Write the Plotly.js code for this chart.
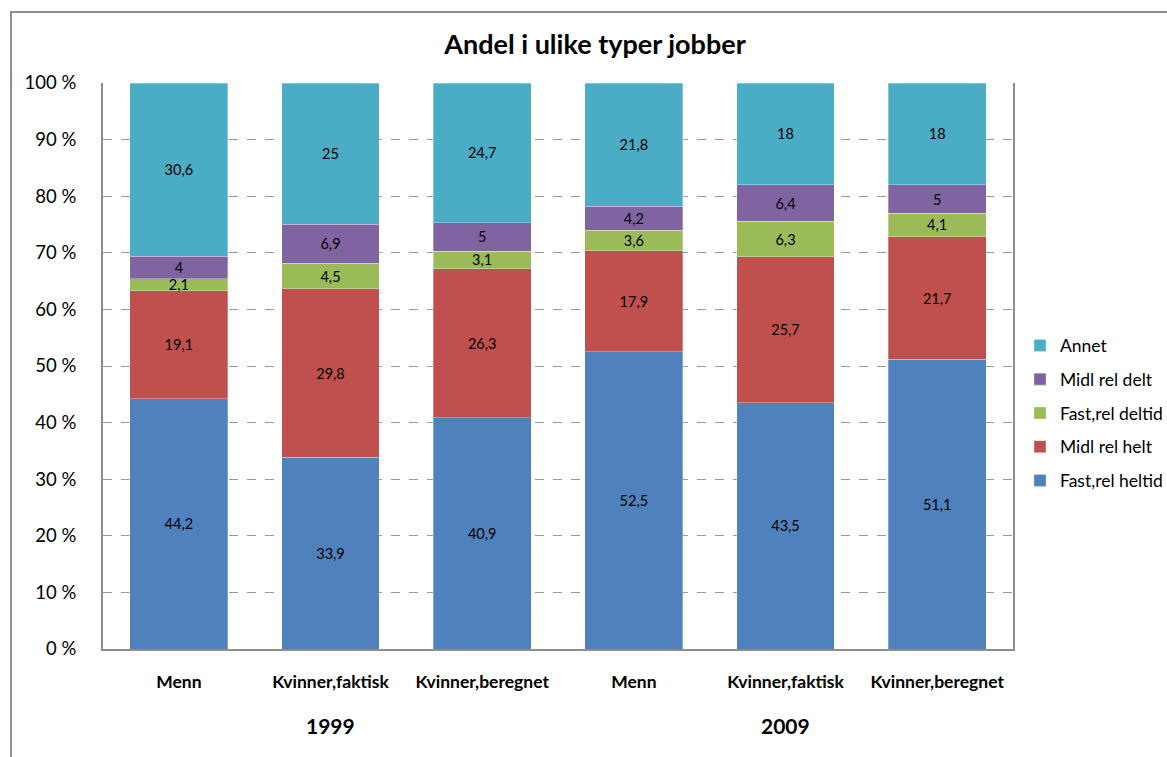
<!DOCTYPE html>
<html>
<head>
<meta charset="utf-8">
<script src="https://cdn.plot.ly/plotly-3.0.1.min.js"></script>
<style>
  html, body { margin: 0; padding: 0; background: #fff; }
  #wrap { position: relative; width: 1167px; height: 757px; overflow: hidden; }
  #frame { position: absolute; left: 10px; top: 11px; width: 1200px; height: 800px;
           border-left: 2px solid #8f8f8f; border-top: 2px solid #8f8f8f; pointer-events: none; }
  #chart { position: absolute; left: 0; top: 0; width: 1167px; height: 757px; }
</style>
</head>
<body>
<div id="wrap">
  <div id="chart"></div>
  <div id="frame"></div>
</div>
<script>
const categories = ["Menn", "Kvinner,faktisk", "Kvinner,beregnet", "Menn", "Kvinner,faktisk", "Kvinner,beregnet"];
const years = ["1999", "2009"];
const fastHeltid = [44.2, 33.9, 40.9, 52.5, 43.5, 51.1];
const midlHelt   = [19.1, 29.8, 26.3, 17.9, 25.7, 21.7];
const fastDeltid = [2.1, 4.5, 3.1, 3.6, 6.3, 4.1];
const midlDelt   = [4, 6.9, 5, 4.2, 6.4, 5];
const annet      = [30.6, 25, 24.7, 21.8, 18, 18];
const yTicks = [0, 10, 20, 30, 40, 50, 60, 70, 80, 90, 100];

const xIdx = categories.map((c, i) => i);
const font = "Lato, 'Open Sans', sans-serif";

const series = [
  {name: "Fast,rel heltid", values: fastHeltid, color: "#4F81BD"},
  {name: "Midl rel helt",   values: midlHelt,   color: "#C0504D"},
  {name: "Fast,rel deltid", values: fastDeltid, color: "#9BBB59"},
  {name: "Midl rel delt",   values: midlDelt,   color: "#8064A2"},
  {name: "Annet",           values: annet,      color: "#4BACC6"}
];

const traces = series.map((s, k) => ({
  type: "bar",
  x: xIdx,
  y: s.values,
  name: s.name,
  legendgroup: "g" + k,
  legendrank: 1000 + (series.length - k),
  marker: {color: s.color, line: {color: "rgba(255,255,255,0.6)", width: 0.5}},
  text: s.values.map(v => String(v).replace(".", ",")),
  textposition: "inside",
  insidetextanchor: "middle",
  constraintext: "none",
  textangle: 0,
  textfont: {family: font, size: 14.5, color: "#000"},
  hoverinfo: "name+y"
}));

const layout = {
  width: 1167, height: 757,
  paper_bgcolor: "rgba(0,0,0,0)",
  plot_bgcolor: "#fff",
  margin: {l: 103, r: 154, t: 83, b: 108, autoexpand: false},
  barmode: "stack",
  barnorm: "percent",
  bargap: 0.354,
  title: {
    text: "<b>Andel i ulike typer jobber</b>",
    font: {family: font, size: 27, color: "#000"},
    x: 595 / 1167, xref: "container", xanchor: "center",
    y: 1 - 45 / 757, yref: "container", yanchor: "middle"
  },
  xaxis: {
    tickmode: "array",
    tickvals: xIdx,
    ticktext: categories.map(c => "<b>" + c + "</b>"),
    tickfont: {family: font, size: 17.5, color: "#000"},
    range: [-0.5, 5.5],
    showline: true, linecolor: "#8f8f8f", linewidth: 2,
    ticks: "", ticklabelstandoff: 16,
    showgrid: false, zeroline: false, fixedrange: true
  },
  yaxis: {
    range: [0, 100],
    tickmode: "array",
    tickvals: yTicks,
    ticktext: yTicks.map(v => v + " %"),
    tickfont: {family: font, size: 18.5, color: "#000"},
    showline: true, mirror: true, linecolor: "#8f8f8f", linewidth: 2,
    showgrid: true, gridcolor: "#9a9a9a", griddash: "dash", gridwidth: 1,
    ticks: "", ticklabelstandoff: 21,
    zeroline: false, fixedrange: true
  },
  legend: {
    x: (1020 - 103) / 910, xanchor: "left",
    y: (649 - 413) / 566, yanchor: "middle",
    traceorder: "grouped",
    tracegroupgap: 8,
    font: {family: font, size: 17.5, color: "#000"},
    itemwidth: 30
  },
  annotations: years.map((yr, g) => ({
    x: 1 + 3 * g, xref: "x",
    y: -(725 - 649) / 566, yref: "paper",
    text: "<b>" + yr + "</b>",
    showarrow: false,
    font: {family: font, size: 21, color: "#000"},
    yanchor: "middle"
  })),
  showlegend: true
};

Plotly.newPlot("chart", traces, layout, {displayModeBar: false, staticPlot: true});
</script>
</body>
</html>
